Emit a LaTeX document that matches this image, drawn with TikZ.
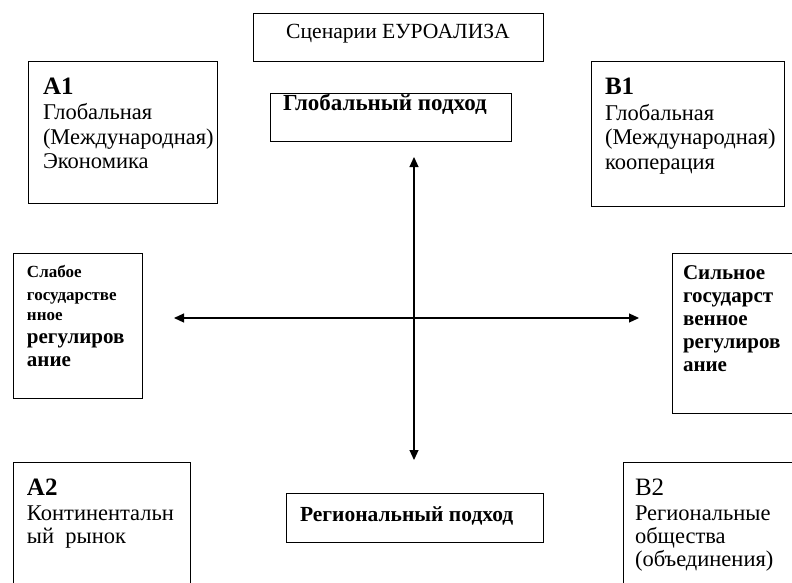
\documentclass[tikz,border=0pt]{standalone}
\usepackage{fontspec}
\setmainfont{Liberation Serif}
\usetikzlibrary{arrows.meta}
\newcommand{\fnorm}{\fontsize{22.5}{24}\selectfont}
\newcommand{\ftitle}{\fontsize{21.6}{24}\selectfont}
\newcommand{\fbold}{\fontsize{21}{24}\selectfont\bfseries}
\newcommand{\fglob}{\fontsize{23}{24}\selectfont\bfseries}
\newcommand{\freg}{\fontsize{21.5}{24}\selectfont\bfseries}
\newcommand{\fhead}{\fontsize{25}{28}\selectfont\bfseries}
\newcommand{\fsmall}{\fontsize{17}{20}\selectfont\bfseries}
\tikzset{
  box/.style={draw=black, line width=1.2pt},
  txt/.style={anchor=base west, inner sep=0pt, outer sep=0pt},
  axis/.style={line width=1.1pt, {Triangle[length=10pt,width=9pt]}-{Triangle[length=10pt,width=9pt]}}
}
\begin{document}
\begin{tikzpicture}[x=1pt,y=-1pt]
\useasboundingbox (0,0) rectangle (792,583);
\clip (0,0) rectangle (792,583);
\fill[white] (0,0) rectangle (792,583);
% boxes
\node[box, minimum width=290pt, minimum height=48pt, inner sep=0pt, anchor=north west] (title) at (253,13) {};
\node[box, minimum width=241pt, minimum height=48pt, inner sep=0pt, anchor=north west] (glob) at (270,93) {};
\node[box, minimum width=189pt, minimum height=142pt, inner sep=0pt, anchor=north west] (a1) at (28,61) {};
\node[box, minimum width=193pt, minimum height=145pt, inner sep=0pt, anchor=north west] (b1) at (591,61) {};
\node[box, minimum width=129pt, minimum height=145pt, inner sep=0pt, anchor=north west] (weak) at (13,253) {};
\node[box, minimum width=140pt, minimum height=160pt, inner sep=0pt, anchor=north west] (strong) at (672,253) {};
\node[box, minimum width=177pt, minimum height=140pt, inner sep=0pt, anchor=north west] (a2) at (13,462) {};
\node[box, minimum width=190pt, minimum height=140pt, inner sep=0pt, anchor=north west] (b2) at (623,462) {};
\node[box, minimum width=257pt, minimum height=49pt, inner sep=0pt, anchor=north west] (reg) at (286,493) {};
% texts
\node[anchor=base, inner sep=0pt, font=\ftitle] (titlet) at (398,39) {Сценарии ЕУРОАЛИЗА};
\node[txt, font=\fglob] (globt) at (283,111) {Глобальный подход};
\node[txt, font=\freg] (regt) at (300,521) {Региональный подход};
% A1
\node[txt, font=\fhead] (a1h) at (43,95) {A1};
\node[txt, font=\fnorm] (a1l1) at (43,120) {Глобальная};
\node[txt, font=\fnorm] (a1l2) at (43,144) {(Международная)};
\node[txt, font=\fnorm] (a1l3) at (43,168) {Экономика};
% B1
\node[txt, font=\fhead] (b1h) at (605,95) {B1};
\node[txt, font=\fnorm] (b1l1) at (605,121) {Глобальная};
\node[txt, font=\fnorm] (b1l2) at (605,145) {(Международная)};
\node[txt, font=\fnorm] (b1l3) at (605,169) {кооперация};
% weak
\node[txt, font=\fsmall] (w1) at (27,277) {Слабое};
\node[txt, font=\fsmall] (w2) at (27,300) {государстве};
\node[txt, font=\fsmall] (w3) at (27,320) {нное};
\node[txt, font=\fbold] (w4) at (27,343) {регулиров};
\node[txt, font=\fbold] (w5) at (27,366) {ание};
% strong
\node[txt, font=\fbold] (s1) at (683,279) {Сильное};
\node[txt, font=\fbold] (s2) at (683,302) {государст};
\node[txt, font=\fbold] (s3) at (683,325) {венное};
\node[txt, font=\fbold] (s4) at (683,348) {регулиров};
\node[txt, font=\fbold] (s5) at (683,371) {ание};
% A2
\node[txt, font=\fhead] (a2h) at (27,495) {A2};
\node[txt, font=\fnorm] (a2l1) at (27,520) {Континентальн};
\node[txt, font=\fnorm] (a2l2) at (27,543) {ый\ \ рынок};
% B2
\node[txt, font=\fontsize{25}{28}\selectfont] (b2h) at (635,495) {B2};
\node[txt, font=\fnorm] (b2l1) at (635,520) {Региональные};
\node[txt, font=\fnorm] (b2l2) at (635,543) {общества};
\node[txt, font=\fnorm] (b2l3) at (635,566) {(объединения)};
% axes
\coordinate (vtop) at (414,157);
\coordinate (vbot) at (414,460);
\coordinate (hleft) at (174,318);
\coordinate (hright) at (639,318);
\draw[axis] (vtop) -- (vbot);
\draw[axis] (hleft) -- (hright);
\end{tikzpicture}
\end{document}
